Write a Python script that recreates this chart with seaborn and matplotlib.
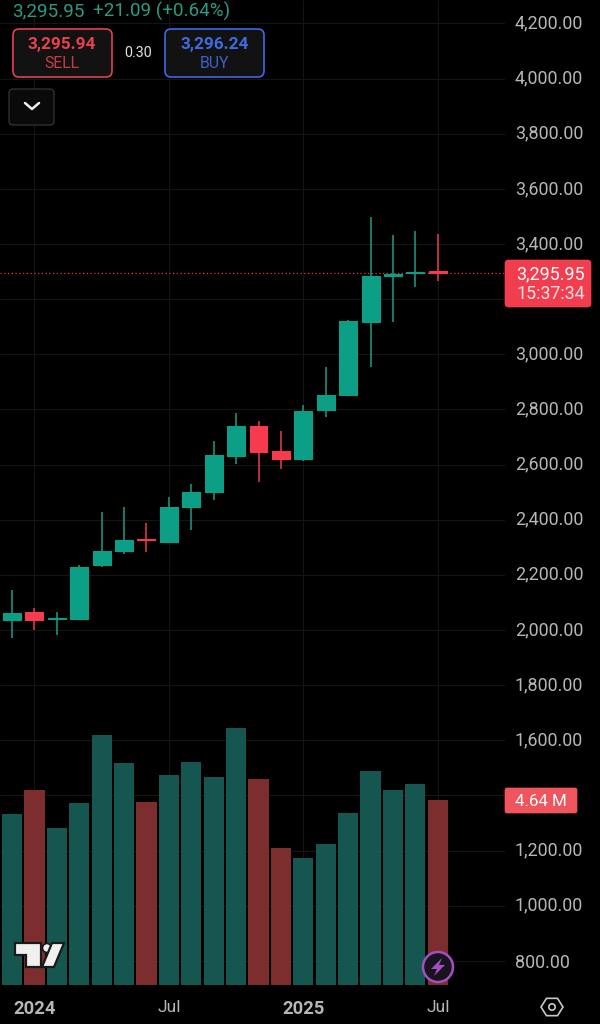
import matplotlib
matplotlib.use("Agg")
import matplotlib.pyplot as plt
from matplotlib.patches import FancyBboxPatch, Polygon, Circle
import numpy as np
import pandas as pd
import seaborn as sns

# ---- data ----
opens  = [2035,2064,2039,2041,2236,2285,2329,2320,2446,2499,2630,2741,2649,2621,2797,2852,3118,3285,3294,3302]
closes = [2061,2036,2044,2230,2285,2325,2325,2445,2500,2634,2741,2647,2621,2795,2853,3121,3284,3290,3298,3295.95]
highs  = [2145,2079,2064,2235,2429,2447,2387,2481,2530,2684,2788,2759,2723,2815,2954,3124,3497,3433,3448,3436]
lows   = [1972,2001,1983,2039,2227,2276,2284,2320,2363,2471,2602,2536,2583,2613,2771,2852,2955,3118,3245,3266]
volumes = [4.29,4.89,3.93,4.56,6.27,5.56,4.59,5.26,5.59,5.21,6.44,5.16,3.43,3.18,3.53,4.31,5.36,4.89,5.04,4.64]
vol_dirs = ["up","down","up","up","up","up","down","up","up","up","up","down","down","up","up","up","up","up","up","down"]
price_ticks = [800,1000,1200,1600,1800,2000,2200,2400,2600,2800,3000,3400,3600,3800,4000,4200]
grid_prices = list(range(800, 4400, 200))
time_pos = [1, 7, 13, 19]
time_labels = ["2024", "Jul", "2025", "Jul"]
last_price = 3295.95

GREEN, RED = "#0c9f86", "#f73b4e"
VGREEN, VRED = "#155750", "#7c2e2e"
WGREEN, WRED = "#1f8f7b", "#d8394a"
GREY = "#b4b6b8"
FONT = ["Roboto", "DejaVu Sans"]

sns.set_theme(style="dark")
plt.rcParams["font.family"] = FONT

idx = np.arange(len(opens))
df = pd.DataFrame({"i": idx, "o": opens, "c": closes, "h": highs, "l": lows, "v": volumes, "vd": vol_dirs})
df["bottom"] = df[["o", "c"]].min(axis=1)
df["height"] = (df["c"] - df["o"]).abs()
df["dir"] = np.where(df["c"] >= df["o"], "up", "down")

fig = plt.figure(figsize=(6, 10.24), dpi=100, facecolor="black")
ax = fig.add_axes([0, 1 - 985 / 1024, 505 / 600, 985 / 1024], facecolor="black")

for d, col, wc in (("up", GREEN, WGREEN), ("down", RED, WRED)):
    s = df[df["dir"] == d]
    ax.vlines(s["i"], s["l"], s["h"], color=wc, lw=1.2, zorder=3)
    sns.barplot(data=s, x="i", y="height", bottom=s["bottom"].values, native_scale=True,
                color=col, saturation=1, width=0.8, ax=ax, zorder=4,
                edgecolor=col, linewidth=0.8)

ax_v = ax.twinx()
ax_v.patch.set_visible(False)
for d, col in (("up", VGREEN), ("down", VRED)):
    s = df[df["vd"] == d]
    sns.barplot(data=s, x="i", y="v", native_scale=True, color=col, saturation=1,
                width=0.9, ax=ax_v, zorder=2, linewidth=0)
ax_v.set_ylim(0, 985 / 39.9)
ax_v.set_yticks([])
ax_v.set_ylabel("")
for sp in ax_v.spines.values():
    sp.set_visible(False)
ax.set_zorder(1)
ax_v.set_zorder(2)
fig.patch.set_facecolor("black")

ax.set_ylim(712.3, 4285.1)
ax.set_xlim(-0.536, 22.0)
ax.hlines(grid_prices, -0.536, 22.0, color="#141414", lw=0.8, zorder=0)
ax.vlines(time_pos, 712.3, 4285.1, color="#141414", lw=0.8, zorder=0)
ax.axhline(last_price, color="#f23645", lw=0.9, ls=(0, (1, 2)), zorder=2)

ax.grid(False)
ax.yaxis.tick_right()
ax.set_yticks(price_ticks)
ax.set_yticklabels([f"{p:,.2f}" for p in price_ticks], fontsize=12.9, color=GREY)
for lab, p in zip(ax.get_yticklabels(), price_ticks):
    lab.set_verticalalignment("center_baseline" if p == 800 else "center")
ax.set_xticks(time_pos)
ax.set_xticklabels(time_labels, fontsize=12.5, color=GREY)
for lab, text in zip(ax.get_xticklabels(), time_labels):
    if text.isdigit():
        lab.set_fontweight("bold")
        lab.set_fontsize(13.2)
ax.tick_params(axis="y", length=0, pad=7.2)
ax.tick_params(axis="x", length=0, pad=11)
ax.set_xlabel("")
ax.set_ylabel("")
for sp in ax.spines.values():
    sp.set_visible(False)

# ---- interface overlay in pixel units ----
ui = fig.add_axes([0, 0, 1, 1], facecolor="none")
ui.set_xlim(0, 600)
ui.set_ylim(1024, 0)
ui.axis("off")
ui.set_zorder(5)

def box(x0, y0, x1, y1, fc, ec, r=6, lw=1.0):
    ui.add_patch(FancyBboxPatch((x0, y0), x1 - x0, y1 - y0, boxstyle=f"round,pad=0,rounding_size={r}",
                                fc=fc, ec=ec, lw=lw, mutation_aspect=1))

def txt(x, y, s, c, fs, ha="center", w="normal"):
    ui.text(x, y, s, color=c, fontsize=fs, ha=ha, va="center", fontweight=w)

txt(12, 11, "3,295.95", "#2b9a83", 13.6, ha="left")
txt(93, 11, "+21.09 (+0.64%)", "#2b9a83", 13.6, ha="left")

box(13, 29, 112, 77, "#121212", "#e0414e", lw=1.2)
txt(62, 44, "3,295.94", "#e8404e", 12.4, w="bold")
txt(62, 63, "SELL", "#c93a46", 11.4)
txt(138.5, 53, "0.30", "#e4e4e4", 10.4)
box(165, 29, 264, 77, "#121212", "#3f68e6", lw=1.2)
txt(214.5, 44, "3,296.24", "#3f6be0", 12.4, w="bold")
txt(214.5, 63, "BUY", "#3a62cc", 11.4)

box(9, 89, 54, 125, "#0a0a0a", "#3a3a3a", r=4, lw=0.8)
ui.plot([25, 32, 39], [103, 109, 103], color="#eeeeee", lw=1.8, solid_capstyle="round", solid_joinstyle="round")

box(505, 260, 591, 307, "#f23d4f", "#f23d4f", r=3, lw=0.5)
txt(585, 274, "3,295.95", "#ffffff", 12.9, ha="right")
txt(585, 294, "15:37:34", "#fbdfe1", 12.9, ha="right")
box(505, 788, 577, 813, "#f0545c", "#f0545c", r=2, lw=0.5)
txt(541, 801.5, "4.64 M", "#ffffff", 12.2)

# TradingView mark
logo_edge = "#1a1a1a"
ui.add_patch(Polygon([(15, 943), (41, 943), (41, 967), (26, 967), (26, 955), (15, 955)],
                     closed=True, fc="#f0f0f0", ec=logo_edge, lw=1.6))
ui.add_patch(Circle((47, 948), 4.5, fc="#f0f0f0", ec=logo_edge, lw=1.2))
ui.add_patch(Polygon([(52, 943), (64, 943), (54, 967), (42, 967)],
                     closed=True, fc="#f0f0f0", ec=logo_edge, lw=1.6))

# lightning badge
ui.add_patch(Circle((438, 967), 15, fc="#191320", ec="#a250c0", lw=1.8))
ui.add_patch(Polygon([(442, 958), (431, 969), (437, 969), (434, 976), (445, 965), (439, 965)],
                     closed=True, fc="#a250c0", ec="none"))

# settings hexagon
hx = [552 + 11 * np.cos(a) for a in np.deg2rad(np.arange(0, 360, 60))]
hy = [1007 + 10 * np.sin(a) for a in np.deg2rad(np.arange(0, 360, 60))]
ui.add_patch(Polygon(np.column_stack([hx, hy]), closed=True, fc="none", ec="#c8c8c8", lw=1.2))
ui.add_patch(Circle((552, 1007), 3.2, fc="none", ec="#c8c8c8", lw=1.2))

fig.savefig("out.png", dpi=100, facecolor="black")
